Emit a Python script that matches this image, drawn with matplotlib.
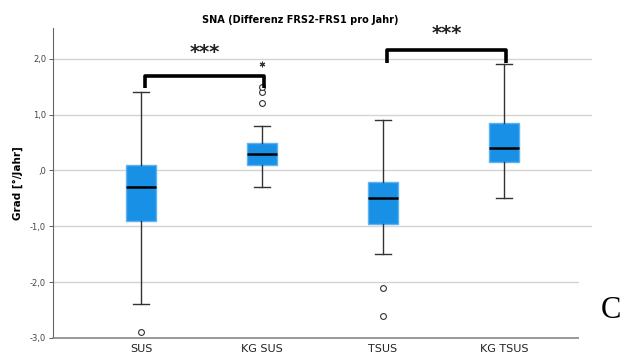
import matplotlib
matplotlib.use("Agg")
from matplotlib import pyplot as plt
from matplotlib.ticker import FuncFormatter
from matplotlib.patches import Rectangle

# Gruppen und Kennwerte der Boxplots (Grad pro Jahr)
gruppen = ["SUS", "KG SUS", "TSUS", "KG TSUS"]
median = [-0.3, 0.3, -0.5, 0.4]
q1 = [-0.9, 0.1, -0.95, 0.15]
q3 = [0.1, 0.5, -0.2, 0.85]
whisker_unten = [-2.4, -0.3, -1.5, -0.5]
whisker_oben = [1.4, 0.8, 0.9, 1.9]
ausreisser = [[-2.9], [1.2, 1.4, 1.5], [-2.1, -2.6], []]
extremwerte = [[], [1.9], [], []]

# Signifikanzklammern: (Gruppe links, Gruppe rechts, Hoehe, Beinende)
klammern = [(1, 2, 1.7, 1.47), (3, 4, 2.15, 1.92)]
sterne = "***"
stern_abstand = [0.41, 0.31]

blau = "#1790e6"

def y_format(v, pos):
    s = f"{v:.1f}".replace(".", ",")
    if s.startswith("0,"):
        s = s[1:]
    return s

fig = plt.figure(figsize=(6.26, 3.53), dpi=100)
ax = fig.add_axes([0.0847, 0.0425, 0.861, 0.878])

stats = []
for i, name in enumerate(gruppen):
    stats.append({
        "label": name,
        "med": median[i],
        "q1": q1[i],
        "q3": q3[i],
        "whislo": whisker_unten[i],
        "whishi": whisker_oben[i],
        "fliers": ausreisser[i],
    })

positionen = list(range(1, len(gruppen) + 1))
ax.bxp(stats, positions=positionen, widths=0.25, patch_artist=True,
       boxprops=dict(facecolor=blau, edgecolor="#5fb2f0", linewidth=1),
       medianprops=dict(color="black", linewidth=1.8),
       whiskerprops=dict(color="#333333", linewidth=1),
       capprops=dict(color="#333333", linewidth=1),
       capwidths=0.13,
       flierprops=dict(marker="o", markersize=4.2, markerfacecolor="white",
                       markeredgecolor="#333333", markeredgewidth=0.8),
       zorder=3)

# Extremwerte als Sternchen
for pos, werte in zip(positionen, extremwerte):
    for w in werte:
        ax.plot(pos, w, marker=(6, 2, 0), markersize=4, color="#333333",
                linestyle="none", zorder=4, markeredgewidth=0.8)

for (links, rechts, hoehe, bein), abstand in zip(klammern, stern_abstand):
    xl = links + 0.03
    xr = rechts + 0.02
    ax.plot([xl, xl, xr, xr], [bein, hoehe, hoehe, bein], color="black",
            linewidth=2.6, solid_joinstyle="round", solid_capstyle="butt",
            zorder=5)
    ax.text((xl + xr) / 2, hoehe + abstand, sterne, ha="center", va="center",
            fontsize=14, fontweight="bold", family="DejaVu Sans",
            color="#222222", clip_on=False)

ax.set_xlim(0.273, 4.727)
ax.set_ylim(-3.0, 2.55)
ax.set_yticks([-3, -2, -1, 0, 1, 2])
ax.yaxis.set_major_formatter(FuncFormatter(y_format))
ax.set_xticks(positionen)
ax.set_xticklabels(gruppen)

ax.grid(axis="y", color="#d4d4d4", linewidth=1, zorder=0)
ax.set_axisbelow(True)
for seite in ["top", "right"]:
    ax.spines[seite].set_visible(False)
ax.spines["left"].set_color("#666666")
ax.spines["bottom"].set_color("#888888")
ax.spines["bottom"].set_linewidth(1.2)
ax.tick_params(axis="x", length=0, labelsize=8, colors="#222222", pad=4)
ax.tick_params(axis="y", length=3, width=0.6, labelsize=6, colors="#444444",
               pad=2)

ax.set_ylabel("Grad [°/Jahr]", fontsize=7.5, fontweight="bold", labelpad=5)
ax.set_title("SNA (Differenz FRS2-FRS1 pro Jahr)", fontsize=7,
             fontweight="bold", pad=4, x=0.458)

# weisser Bereich rechts unten mit Panelbuchstabe
fig.patches.append(Rectangle((579 / 626, 0), 1, 100 / 353,
                             transform=fig.transFigure, facecolor="white",
                             edgecolor="none", zorder=10))
fig.text(0.976, 0.12, "C", fontsize=22, family="Liberation Serif",
         ha="center", va="center", zorder=11)

fig.savefig("out.png", dpi=100)
